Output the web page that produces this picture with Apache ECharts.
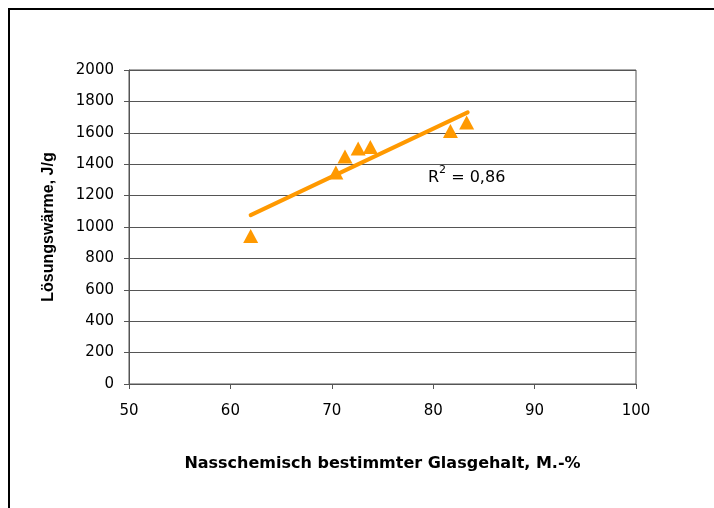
<!DOCTYPE html>
<html>
<head>
<meta charset="utf-8">
<script src="https://cdn.jsdelivr.net/npm/echarts@6/dist/echarts.min.js"></script>
<style>
  html, body { margin: 0; padding: 0; background: #fff; }
  #chart { width: 714px; height: 508px; }
</style>
</head>
<body>
<div id="chart"></div>
<script>
const glasgehalt = [62.0, 70.4, 71.3, 72.6, 73.8, 81.7, 83.3];
const loesungswaerme = [943, 1347, 1449, 1500, 1509, 1611, 1665];
// Trendlinie, Endpunkte
const trendX = [62.0, 83.4];
const trendY = [1076, 1730];
const rSquared = '0,86';

const punkte = glasgehalt.map(function (x, i) { return [x, loesungswaerme[i]]; });
const trend = trendX.map(function (x, i) { return [x, trendY[i]]; });

const wide = '"DejaVu Sans", sans-serif';
const narrow = '"Liberation Sans", Arial, sans-serif';
const axisGrey = '#555555';

const myChart = echarts.init(document.getElementById('chart'));
const option = {
    backgroundColor: '#fff',
    animation: false,
    grid: {
        left: 129, top: 70, right: 78, bottom: 124,
        show: true, borderColor: axisGrey, borderWidth: 1
    },
    xAxis: {
        type: 'value', min: 50, max: 100, interval: 10,
        name: 'Nasschemisch bestimmter Glasgehalt, M.-%',
        nameLocation: 'middle', nameGap: 72,
        nameTextStyle: { fontFamily: wide, fontSize: 16, fontWeight: 'bold', color: '#000' },
        axisLine: { lineStyle: { color: axisGrey, width: 1 } },
        axisTick: { show: true, length: 5, lineStyle: { color: axisGrey } },
        axisLabel: { fontFamily: wide, fontSize: 15, color: '#000', margin: 20 },
        splitLine: { show: false }
    },
    yAxis: {
        type: 'value', min: 0, max: 2000, interval: 200,
        name: 'Lösungswärme, J/g',
        nameLocation: 'middle', nameGap: 72,
        nameTextStyle: { fontFamily: narrow, fontSize: 16, fontWeight: 'bold', color: '#000' },
        axisLine: { show: true, lineStyle: { color: axisGrey, width: 1 } },
        axisTick: { show: true, length: 5, lineStyle: { color: axisGrey } },
        axisLabel: {
            fontFamily: wide, fontSize: 15, color: '#000', margin: 15,
            formatter: function (v) { return String(v); }
        },
        splitLine: { show: true, lineStyle: { color: axisGrey, width: 1 } }
    },
    series: [
        {
            name: 'Trend',
            type: 'line',
            data: trend,
            symbol: 'none',
            lineStyle: { color: '#ff9900', width: 4, cap: 'round' },
            z: 2
        },
        {
            name: 'Messwerte',
            type: 'scatter',
            data: punkte,
            symbol: 'triangle',
            symbolSize: [15, 14],
            itemStyle: { color: '#ff9900', opacity: 1 },
            z: 3
        }
    ],
    graphic: [
        {
            type: 'rect',
            shape: { x: 9, y: 9, width: 740, height: 540 },
            style: { fill: 'none', stroke: '#000', lineWidth: 2 },
            silent: true
        },
        {
            type: 'text',
            left: 428, top: 165,
            style: {
                text: '{r|R}{s|2}{r| = ' + rSquared + '}',
                rich: {
                    r: { fontFamily: wide, fontSize: 16, fill: '#000', verticalAlign: 'bottom', lineHeight: 21 },
                    s: { fontFamily: wide, fontSize: 11, fill: '#000', verticalAlign: 'top', lineHeight: 21 }
                }
            }
        }
    ]
};
myChart.setOption(option);
</script>
</body>
</html>
